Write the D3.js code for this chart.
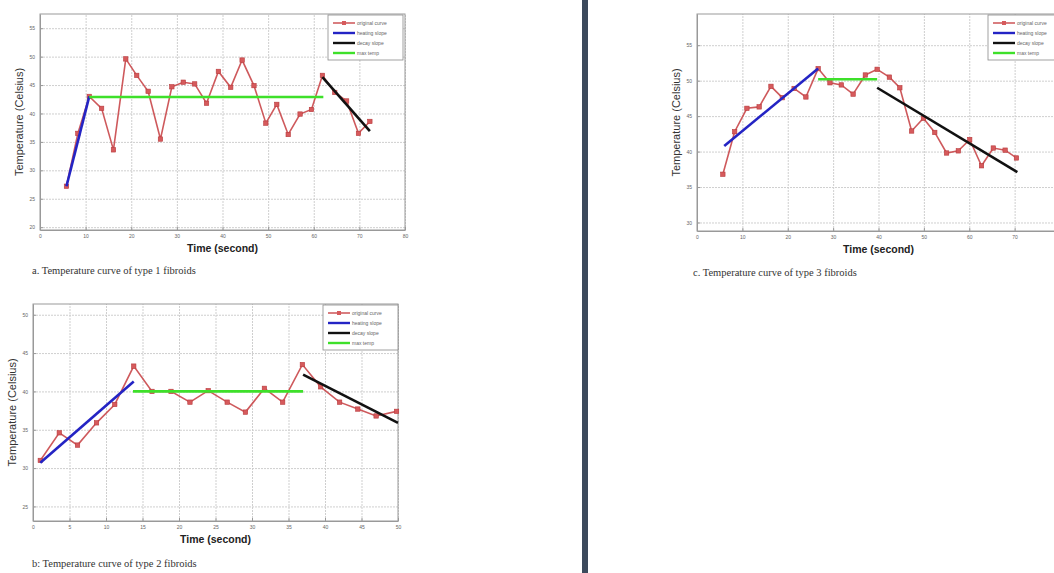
<!DOCTYPE html>
<html>
<head>
  <script src="https://d3js.org/d3.v7.min.js"></script>
  <style>
    body { margin: 0; background: #fff; }
    .grid line { stroke: #cfcfcf; stroke-dasharray: 2 1; }
    .grid .domain { stroke: none; }
    .tk text { font-family: "Liberation Sans", Arial, sans-serif; font-size: 5px; fill: #666; }
    .tk line, .tk .domain { stroke: #999; }
  </style>
</head>
<body>
<svg id="svg" width="1054" height="573"></svg>
<script>
  // ---------- data ----------
  const legendLabels = ["original curve", "heating slope", "decay slope", "max temp"];

  // panel a
  const xTicksA = [0, 10, 20, 30, 40, 50, 60, 70, 80];
  const yTicksA = [20, 25, 30, 35, 40, 45, 50, 55];
  const timeA = [5.8, 8.3, 10.8, 13.5, 16.1, 18.8, 21.2, 23.7, 26.4, 28.9, 31.4, 33.9, 36.5, 39.1,
                 41.8, 44.3, 46.9, 49.5, 51.9, 54.4, 57.0, 59.5, 61.9, 64.6, 67.2, 69.8, 72.3];
  const tempA = [27.2, 36.5, 43.0, 40.9, 33.6, 49.6, 46.7, 43.9, 35.5, 44.7, 45.5, 45.2, 41.8, 47.4,
                 44.6, 49.4, 44.9, 38.3, 41.6, 36.3, 39.9, 40.7, 46.7, 43.7, 42.2, 36.5, 38.6];
  const heatA = [[5.8, 27.2], [10.8, 43.0]];
  const maxA = [[10.8, 42.9], [62.1, 42.9]];
  const decayA = [[61.9, 46.4], [72.3, 36.9]];

  // panel b
  const xTicksB = [0, 5, 10, 15, 20, 25, 30, 35, 40, 45, 50];
  const yTicksB = [25, 30, 35, 40, 45, 50];
  const timeB = [1.0, 3.6, 6.1, 8.7, 11.2, 13.8, 16.3, 18.9, 21.5, 24.0, 26.6, 29.1, 31.7, 34.2,
                 36.9, 39.4, 42.0, 44.5, 47.0, 49.8];
  const tempB = [31.0, 34.6, 33.0, 35.9, 38.3, 43.3, 40.0, 40.0, 38.6, 40.1, 38.6, 37.3, 40.4, 38.6,
                 43.5, 40.6, 38.6, 37.7, 36.8, 37.4];
  const heatB = [[1.0, 30.7], [13.8, 41.3]];
  const maxB = [[13.7, 40.0], [37.0, 40.0]];
  const decayB = [[37.0, 42.2], [50.0, 35.9]];

  // panel c
  const xTicksC = [0, 10, 20, 30, 40, 50, 60, 70];
  const yTicksC = [30, 35, 40, 45, 50, 55];
  const timeC = [5.7, 8.3, 11.0, 13.7, 16.3, 18.8, 21.4, 24.0, 26.7, 29.3, 31.8, 34.4, 37.1, 39.7,
                 42.4, 44.7, 47.3, 49.9, 52.4, 55.0, 57.6, 60.1, 62.7, 65.3, 67.9, 70.4];
  const tempC = [36.8, 42.8, 46.1, 46.3, 49.2, 47.6, 48.9, 47.7, 51.7, 49.7, 49.4, 48.1, 50.8, 51.6,
                 50.5, 49.0, 42.9, 44.7, 42.7, 39.8, 40.1, 41.7, 38.0, 40.5, 40.2, 39.1];
  const heatC = [[6.0, 40.8], [26.7, 51.7]];
  const maxC = [[26.7, 50.2], [39.7, 50.2]];
  const decayC = [[39.7, 49.0], [70.6, 37.1]];

  const svg = d3.select("#svg");
  const colors = { orig: "#c9474a", heat: "#2424c4", decay: "#111111", max: "#3ee02a" };

  function drawPanel(p) {
    const x = d3.scaleLinear().domain(p.xDomain).range([p.left, p.right]);
    const y = d3.scaleLinear().domain(p.yDomain).range([p.bottom, p.top]);
    const g = svg.append("g");
    const w = p.right - p.left, h = p.bottom - p.top;

    g.append("rect").attr("x", p.left).attr("y", p.top).attr("width", w).attr("height", h)
      .attr("fill", "#fff");

    // gridlines
    g.append("g").attr("class", "grid").attr("transform", `translate(0,${p.bottom})`)
      .call(d3.axisBottom(x).tickValues(p.xTicks).tickSize(-h).tickFormat(""));
    g.append("g").attr("class", "grid").attr("transform", `translate(${p.left},0)`)
      .call(d3.axisLeft(y).tickValues(p.yTicks).tickSize(-w).tickFormat(""));

    // axes (matlab style, ticks inward)
    g.append("g").attr("class", "tk").attr("transform", `translate(0,${p.bottom})`)
      .call(d3.axisBottom(x).tickValues(p.xTicks).tickSizeInner(-3).tickSizeOuter(0).tickPadding(4));
    g.append("g").attr("class", "tk").attr("transform", `translate(${p.left},0)`)
      .call(d3.axisLeft(y).tickValues(p.yTicks).tickSizeInner(-3).tickSizeOuter(0).tickPadding(5));
    g.append("rect").attr("x", p.left).attr("y", p.top).attr("width", w).attr("height", h)
      .attr("fill", "none").attr("stroke", "#9a9a9a").attr("stroke-width", 1);

    const line = d3.line().x(d => x(d[0])).y(d => y(d[1]));
    const pts = p.time.map((t, i) => [t, p.temp[i]]);

    const plot = g.append("g");
    plot.append("path").attr("d", line(pts)).attr("fill", "none")
      .attr("stroke", colors.orig).attr("stroke-width", 1.6).attr("opacity", 0.9);
    plot.selectAll("rect.mk").data(pts).join("rect").attr("class", "mk")
      .attr("x", d => x(d[0]) - 2.2).attr("y", d => y(d[1]) - 2.2)
      .attr("width", 4.4).attr("height", 4.4)
      .attr("fill", "#d65a5c").attr("stroke", "#b83a3c").attr("stroke-width", 0.6);

    plot.append("path").attr("d", line(p.heat)).attr("stroke", colors.heat).attr("stroke-width", 2.6);
    plot.append("path").attr("d", line(p.max)).attr("stroke", colors.max).attr("stroke-width", 2.6);
    plot.append("path").attr("d", line(p.decay)).attr("stroke", colors.decay).attr("stroke-width", 2.6);

    // legend
    const lg = g.append("g").attr("transform", `translate(${p.legendX},${p.top + 1})`);
    lg.append("rect").attr("width", 75).attr("height", 45).attr("fill", "#fff")
      .attr("stroke", "#8a8a8a").attr("stroke-width", 0.8);
    const keys = [colors.orig, colors.heat, colors.decay, colors.max];
    legendLabels.forEach((lab, i) => {
      const yy = 8 + i * 10;
      lg.append("line").attr("x1", 5).attr("x2", 27).attr("y1", yy).attr("y2", yy)
        .attr("stroke", keys[i]).attr("stroke-width", i === 0 ? 1.4 : 2.4);
      if (i === 0) {
        lg.append("rect").attr("x", 14).attr("y", yy - 2).attr("width", 4).attr("height", 4)
          .attr("fill", "#d65a5c");
      }
      lg.append("text").attr("x", 29).attr("y", yy + 1.8).text(lab)
        .attr("font-family", "Liberation Sans, Arial, sans-serif").attr("font-size", 5)
        .attr("fill", "#666");
    });

    // axis titles
    g.append("text").attr("x", (p.left + p.right) / 2).attr("y", p.bottom + 22)
      .attr("text-anchor", "middle").attr("font-family", "Liberation Sans, Arial, sans-serif")
      .attr("font-size", 10.5).attr("font-weight", "bold").attr("fill", "#222").text("Time (second)");
    g.append("text")
      .attr("transform", `translate(${p.left - 17},${(p.top + p.bottom) / 2}) rotate(-90)`)
      .attr("text-anchor", "middle").attr("font-family", "Liberation Sans, Arial, sans-serif")
      .attr("font-size", 11).attr("fill", "#333").text("Temperature (Celsius)");

    // caption
    svg.append("text").attr("x", p.capX).attr("y", p.capY)
      .attr("font-family", "Liberation Serif, Times New Roman, serif").attr("font-size", 10.5)
      .attr("fill", "#333").text(p.caption);
  }

  drawPanel({ left: 40, right: 405, top: 14, bottom: 230, xDomain: [0, 80], yDomain: [19.5, 57.5],
    xTicks: xTicksA, yTicks: yTicksA, time: timeA, temp: tempA, heat: heatA, max: maxA, decay: decayA,
    legendX: 328, caption: "a. Temperature curve of type 1 fibroids", capX: 32, capY: 274 });

  drawPanel({ left: 33, right: 398, top: 304, bottom: 521, xDomain: [0, 50], yDomain: [23.1, 51.4],
    xTicks: xTicksB, yTicks: yTicksB, time: timeB, temp: tempB, heat: heatB, max: maxB, decay: decayB,
    legendX: 323, caption: "b: Temperature curve of type 2 fibroids", capX: 32, capY: 567 });

  drawPanel({ left: 697, right: 1060, top: 14, bottom: 231, xDomain: [0, 80], yDomain: [28.8, 59.4],
    xTicks: xTicksC, yTicks: yTicksC, time: timeC, temp: tempC, heat: heatC, max: maxC, decay: decayC,
    legendX: 988, caption: "c. Temperature curve of type 3 fibroids", capX: 693, capY: 276 });

  // page divider
  svg.append("rect").attr("x", 582).attr("y", 0).attr("width", 6).attr("height", 573)
    .attr("fill", "#3c4a5c");
</script>
</body>
</html>
